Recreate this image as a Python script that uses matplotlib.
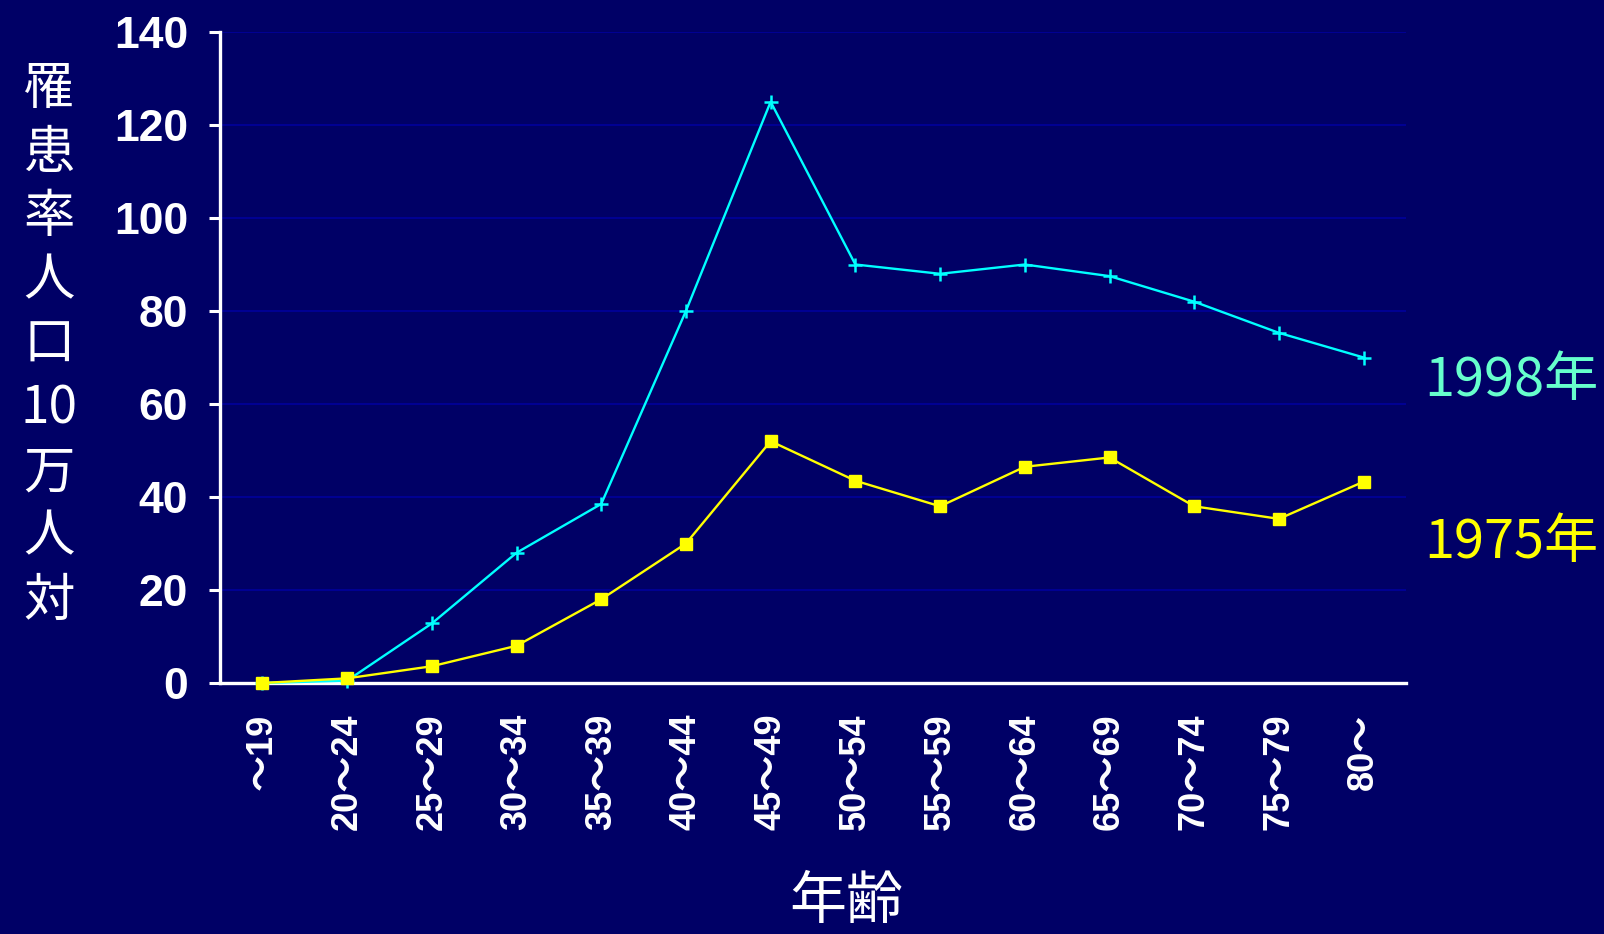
import matplotlib
matplotlib.use("Agg")
import matplotlib.pyplot as plt

# ---- data ----
age_groups = ["～19", "20～24", "25～29", "30～34", "35～39", "40～44", "45～49",
              "50～54", "55～59", "60～64", "65～69", "70～74", "75～79", "80～"]
rate_1998 = [0, 0.5, 12.8, 28, 38.5, 80, 125, 90, 88, 90, 87.5, 82, 75.3, 70]
rate_1975 = [0, 1, 3.6, 8, 18, 30, 52, 43.5, 38, 46.5, 48.5, 38, 35.3, 43.3]
y_ticks = [0, 20, 40, 60, 80, 100, 120, 140]
series_labels = ["1998年", "1975年"]
ylabel_chars = ["罹", "患", "率", "人", "口", "10", "万", "人", "対"]
xlabel_text = "年齢"

BG = "#000066"
GRID = "#000094"
CYAN = "#00FFFF"
YELLOW = "#FFFF00"
AQUA = "#66FFCC"
W, H = 1604, 934

fig = plt.figure(figsize=(W / 100, H / 100), dpi=100, facecolor=BG)
ax = fig.add_axes([220 / W, (H - 683) / H, (1406 - 220) / W, (683 - 32) / H])
ax.set_facecolor(BG)

x = list(range(len(age_groups)))
ax.plot(x, rate_1998, color=CYAN, lw=1.7, marker="+", ms=10, mew=1.8,
        zorder=3, clip_on=False)
ax.plot(x, rate_1975, color=YELLOW, lw=1.7, marker="s", ms=9,
        zorder=4, clip_on=False)

ax.set_xlim(-0.5, len(age_groups) - 0.5)
ax.set_ylim(0, 140)
ax.set_yticks(y_ticks)
ax.set_yticklabels([str(v) for v in y_ticks], fontfamily="Liberation Sans",
                   fontweight="bold", fontsize=32, color="white")
ax.set_xticks(x)
ax.set_xticklabels(age_groups, rotation=90,
                   fontfamily=["Liberation Sans", "Noto Sans CJK JP"],
                   fontweight="bold", fontsize=26, color="white")
ax.tick_params(axis="y", length=8, width=2.2, color="white", pad=15)
ax.tick_params(axis="x", length=0, pad=22)

ax.yaxis.grid(True, color=GRID, lw=1.4, zorder=0)
ax.set_axisbelow(True)
for s in ["top", "right"]:
    ax.spines[s].set_visible(False)
for s in ["left", "bottom"]:
    ax.spines[s].set_color("white")
    ax.spines[s].set_linewidth(2.4)

# y-axis label, stacked characters
for i, ch in enumerate(ylabel_chars):
    yc = 89 + 64 * i
    fig.text(49 / W, 1 - yc / H, ch, ha="center", va="center",
             fontfamily=["Noto Sans CJK JP", "DejaVu Sans"], fontsize=37,
             color="white")

# x-axis label
fig.text(846 / W, 1 - 902 / H, xlabel_text, ha="center", va="center",
         fontfamily=["Noto Sans CJK JP", "DejaVu Sans"], fontsize=41,
         color="white")

# series labels
fig.text(1424 / W, 1 - 380 / H, series_labels[0], ha="left", va="center",
         fontfamily=["Noto Sans CJK JP", "DejaVu Sans"], fontsize=39,
         color=AQUA)
fig.text(1424 / W, 1 - 543 / H, series_labels[1], ha="left", va="center",
         fontfamily=["Noto Sans CJK JP", "DejaVu Sans"], fontsize=39,
         color=YELLOW)

fig.savefig("out.png", dpi=100, facecolor=BG)
